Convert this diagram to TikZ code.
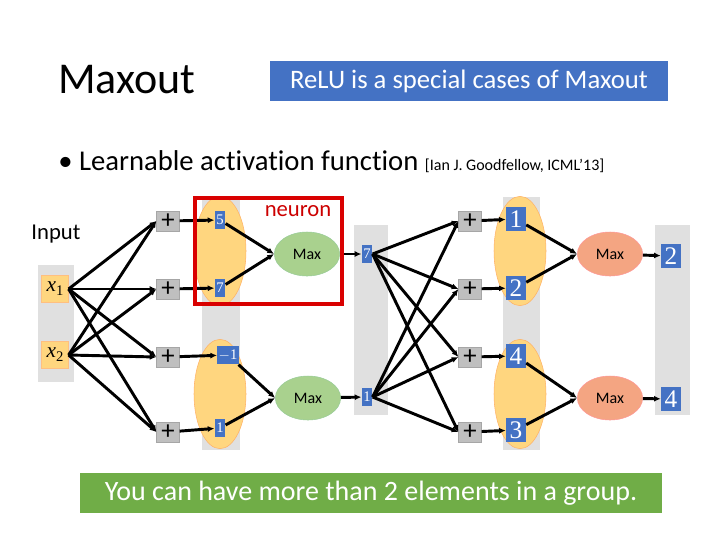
\documentclass[tikz,border=0pt]{standalone}
\usepackage{fontspec}
\setmainfont[Ligatures=NoCommon]{Carlito}
\newfontfamily\serf{Liberation Serif}
\usetikzlibrary{shapes.geometric,arrows.meta}
\definecolor{vblue}{HTML}{4472C4}
\definecolor{gbox}{HTML}{70AD47}
\definecolor{orng}{HTML}{FFD67F}
\definecolor{grn}{HTML}{A9D18E}
\definecolor{sal}{HTML}{F4A582}
\begin{document}
\begin{tikzpicture}[x=0.75pt,y=-0.75pt,
 col/.style={fill=black!12,draw=none},
 grp/.style={ellipse,fill=orng,draw=orange!60,minimum width=39pt,minimum height=82pt,inner sep=0},
 inp/.style={fill=orng,draw=orange!50,minimum size=20pt,inner sep=0,font=\serf\itshape\fontsize{16}{18}\selectfont},
 plus/.style={fill=black!25,draw=black!35,minimum width=17pt,minimum height=15pt,inner sep=0,font=\fontsize{20}{20}\selectfont},
 sv/.style={fill=vblue,text=white,minimum width=8pt,minimum height=14pt,inner sep=1pt,font=\serf\fontsize{11}{12}\selectfont},
 bv/.style={fill=vblue,text=white,minimum width=15pt,minimum height=18pt,inner sep=1pt,font=\serf\fontsize{19}{20}\selectfont},
 mx/.style={ellipse,minimum width=49pt,minimum height=33pt,inner sep=0,font=\fontsize{12}{13}\selectfont},
 ar/.style={-{Latex[length=5pt,width=4.5pt]},line width=2.2pt}]
\useasboundingbox (0,0) rectangle (720,540);
\node[anchor=west,inner sep=0] (title) at (58,80) {\fontsize{33}{36}\selectfont Maxout};
\node[fill=vblue,text=white,minimum width=298pt,minimum height=30pt,inner sep=0,font=\fontsize{20}{22}\selectfont] (relu) at (469,81) {ReLU is a special cases of Maxout};
\node[anchor=west,inner sep=0] (bul) at (58,162) {\fontsize{21.5}{24}\selectfont • Learnable activation function \fontsize{12}{14}\selectfont [Ian J. Goodfellow, ICML’13]};
\node (inl) at (56,234) {\fontsize{17}{19}\selectfont Input};
% columns
\fill[col] (38,265) rectangle (74,382);
\fill[col] (202,200) rectangle (240,450);
\fill[col] (354,225) rectangle (388,415);
\fill[col] (503,197) rectangle (540,450);
\fill[col] (655,225) rectangle (690,415);
\node[grp] (e1) at (220,251) {};
\node[grp] (e2) at (220,394) {};
\node[grp] (e3) at (520,251) {};
\node[grp] (e4) at (520,394) {};
\node[inp] (x1) at (55,289) {x\raisebox{-3pt}{\fontsize{11}{12}\selectfont\upshape 1}};
\node[inp] (x2) at (55,355) {x\raisebox{-3pt}{\fontsize{11}{12}\selectfont\upshape 2}};
\foreach \n/\y in {1/221,2/289,3/357,4/432}{
 \node[plus] (p\n) at (168,\y) {+};
 \node[plus] (q\n) at (470,\y) {+};
 \draw[ar] (x1.east) -- (p\n.west);
 \draw[ar] (x2.east) -- (p\n.west);
}
\node[sv] (a1) at (220,220) {5};
\node[sv] (a2) at (220,288) {7};
\node[sv] (a3) at (228,355) {$-$1};
\node[sv] (a4) at (220,428) {1};
\node[mx,fill=grn,draw=green!50!black!40] (m1) at (307,254) {Max};
\node[mx,fill=grn,draw=green!50!black!40] (m2) at (308,398) {Max};
\node[sv] (h1) at (367,254) {7};
\node[sv] (h2) at (367,397) {1};
\node[bv] (b1) at (516,219) {1};
\node[bv] (b2) at (516,288) {2};
\node[bv] (b3) at (516,356) {4};
\node[bv] (b4) at (516,430) {3};
\node[mx,fill=sal,draw=red!40] (n1) at (610,254) {Max};
\node[mx,fill=sal,draw=red!40] (n2) at (610,398) {Max};
\node[bv] (o1) at (671,256) {2};
\node[bv] (o2) at (671,399) {4};
\foreach \n in {1,2,3,4}{
 \draw[ar] (p\n) -- (a\n);
 \draw[ar] (q\n) -- (b\n);
 \draw[ar] (h1.east) -- (q\n.west);
 \draw[ar] (h2.east) -- (q\n.west);
}
\draw[ar] (a1) -- (m1.west); \draw[ar] (a2) -- (m1.west);
\draw[ar] (a3) -- (m2.west); \draw[ar] (a4) -- (m2.west);
\draw[ar] (b1) -- (n1.west); \draw[ar] (b2) -- (n1.west);
\draw[ar] (b3) -- (n2.west); \draw[ar] (b4) -- (n2.west);
\draw[ar] (m1) -- (h1); \draw[ar] (m2) -- (h2);
\draw[ar] (n1) -- (o1); \draw[ar] (n2) -- (o2);
\draw[red!85!black,line width=3pt] (195,198) rectangle (342,304);
\node[text=red!80!black,font=\fontsize{17}{19}\selectfont] (neu) at (298,211) {neuron};
\node[fill=gbox,text=white,minimum width=436pt,minimum height=30pt,inner sep=0,font=\fontsize{21}{23}\selectfont] (note) at (371,493) {You can have more than 2 elements in a group.};
\end{tikzpicture}
\end{document}
